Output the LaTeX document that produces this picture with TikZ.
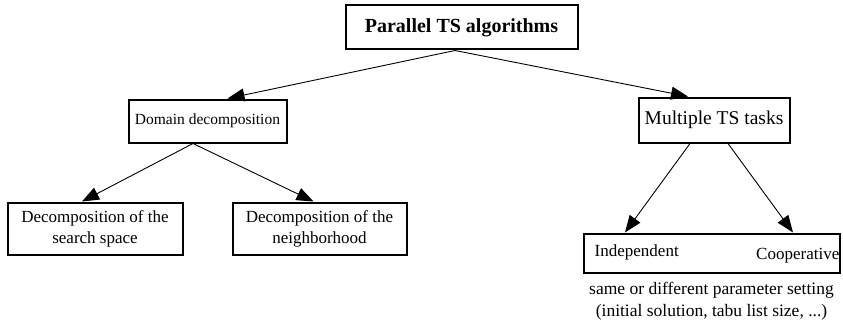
\documentclass[tikz,border=0pt]{standalone}
\usepackage{fontspec}
\setmainfont{Liberation Serif}
\usetikzlibrary{arrows.meta,positioning}

\begin{document}
\begin{tikzpicture}[
    x=1pt, y=-1pt,
    box/.style={rectangle, draw, line width=2pt, inner sep=0pt, align=center},
    arrow/.style={-{Triangle[length=17pt,width=13pt]}, line width=0.9pt},
    txt/.style={inner sep=0pt, align=center}
]
\useasboundingbox (0,0) rectangle (843,321);

% Root
\node[box, minimum width=232pt, minimum height=44pt, font=\fontsize{20}{24}\selectfont\bfseries] (root) at (461.5,27.5) {Parallel TS algorithms};

% Second level
\node[box, minimum width=158pt, minimum height=43pt, font=\fontsize{15.5}{18}\selectfont] (domain) at (207.5,121) {Domain decomposition};
\node[box, minimum width=151pt, minimum height=45pt, font=\fontsize{19.5}{23}\selectfont] (multi) at (714,120) {Multiple TS tasks};

% Third level
\node[box, minimum width=175pt, minimum height=52pt, font=\fontsize{17}{21}\selectfont] (space) at (95,228.5) {Decomposition of the\\search space};
\node[box, minimum width=174pt, minimum height=52pt, font=\fontsize{17}{21}\selectfont] (neigh) at (319.5,228.5) {Decomposition of the\\neighborhood};

% Independent / Cooperative
\node[box, minimum width=256pt, minimum height=39pt] (tasks) at (711.5,253) {};
\node[txt, anchor=west, font=\fontsize{17}{21}\selectfont] (indep) at ([xshift=12pt,yshift=1pt]tasks.west) {Independent};
\node[txt, anchor=east, font=\fontsize{17}{21}\selectfont] (coop) at ([xshift=-1pt,yshift=-2.5pt]tasks.east) {Cooperative};
\node[txt, font=\fontsize{17.5}{22}\selectfont, below=8pt of tasks] (note) {same or different parameter setting\\(initial solution, tabu list size, ...)};

% Arrows
\draw[arrow] ([xshift=-6.5pt]root.south) -- ([xshift=20pt]domain.north);
\draw[arrow] ([xshift=-6.5pt]root.south) -- ([xshift=-26pt]multi.north);
\draw[arrow] ([xshift=-14.5pt]domain.south) -- ([xshift=-13pt]space.north);
\draw[arrow] ([xshift=-14.5pt]domain.south) -- ([xshift=-6pt]neigh.north);
\draw[arrow] ([xshift=-24pt]multi.south) -- ([xshift=-86.5pt]tasks.north);
\draw[arrow] ([xshift=14pt]multi.south) -- ([xshift=81.5pt]tasks.north);

\end{tikzpicture}
\end{document}
